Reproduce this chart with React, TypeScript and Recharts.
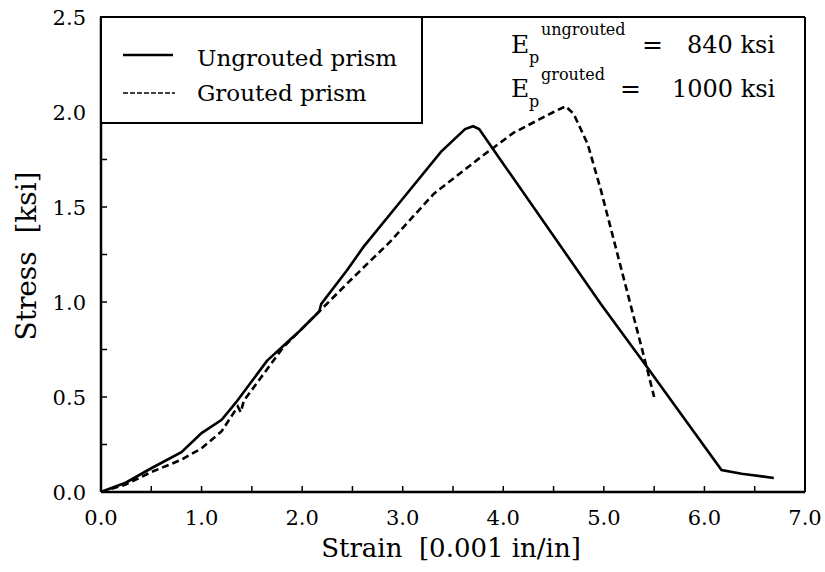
import React from "react";
import { LineChart, Line, XAxis, YAxis } from "recharts";

const ungroutedStrain = [0, 0.25, 0.5, 0.8, 1.0, 1.2, 1.34, 1.65, 1.98, 2.17, 2.19, 2.45, 2.61, 2.98, 3.38, 3.62, 3.7, 3.76, 3.97, 4.97, 5.44, 6.17, 6.37, 6.69];
const ungroutedStress = [0, 0.05, 0.125, 0.21, 0.31, 0.38, 0.47, 0.69, 0.85, 0.95, 0.99, 1.17, 1.29, 1.53, 1.79, 1.91, 1.925, 1.91, 1.75, 0.99, 0.65, 0.116, 0.096, 0.074];

const groutedStrain = [0, 0.25, 0.5, 0.8, 1.0, 1.2, 1.36, 1.39, 1.42, 1.81, 2.15, 2.51, 2.88, 3.31, 3.77, 4.1, 4.5, 4.62, 4.7, 4.84, 4.97, 5.4, 5.5];
const groutedStress = [0, 0.04, 0.105, 0.17, 0.23, 0.32, 0.45, 0.42, 0.48, 0.76, 0.94, 1.13, 1.32, 1.57, 1.76, 1.89, 2.0, 2.03, 1.99, 1.83, 1.59, 0.71, 0.5];

const xTicks = [0, 0.5, 1, 1.5, 2, 2.5, 3, 3.5, 4, 4.5, 5, 5.5, 6, 6.5, 7];
const yTicks = [0, 0.25, 0.5, 0.75, 1, 1.25, 1.5, 1.75, 2, 2.25, 2.5];

const ungrouted = ungroutedStrain.map((x, i) => ({ x, y: ungroutedStress[i] }));
const grouted = groutedStrain.map((x, i) => ({ x, y: groutedStress[i] }));

const FONT = '"DejaVu Serif", serif';
const TICK_LEN = 6;

const isMajor = (v: number) => Math.abs(v - Math.round(v)) < 1e-6;
const isHalf = (v: number) => Math.abs(v * 2 - Math.round(v * 2)) < 1e-6;

const txt = (size: number): React.CSSProperties => ({ fontFamily: FONT, fontSize: size, whiteSpace: "pre" });

const BottomTick = (props: any) => {
  const { x, y, payload } = props;
  const v = payload.value as number;
  return (
    <g>
      <line x1={x} y1={y} x2={x} y2={y - TICK_LEN} stroke="#000" strokeWidth={1.5} />
      {isMajor(v) && (
        <text x={x} y={y + 33} textAnchor="middle" style={txt(21)} fill="#000">
          {v.toFixed(1)}
        </text>
      )}
    </g>
  );
};

const TopTick = (props: any) => {
  const { x, y } = props;
  return <line x1={x} y1={y} x2={x} y2={y + TICK_LEN} stroke="#000" strokeWidth={1.5} />;
};

const LeftTick = (props: any) => {
  const { x, y, payload } = props;
  const v = payload.value as number;
  return (
    <g>
      <line x1={x} y1={y} x2={x + TICK_LEN} y2={y} stroke="#000" strokeWidth={1.5} />
      {isHalf(v) && (
        <text x={x - 15} y={y + 8} textAnchor="end" style={txt(21)} fill="#000">
          {v.toFixed(1)}
        </text>
      )}
    </g>
  );
};

const RightTick = (props: any) => {
  const { x, y } = props;
  return <line x1={x} y1={y} x2={x - TICK_LEN} y2={y} stroke="#000" strokeWidth={1.5} />;
};

export default function App() {
  return (
    <div style={{ position: "absolute", left: 0, top: 0, width: 825, height: 572, background: "#fff" }}>
      <LineChart width={825} height={572} margin={{ top: 16, right: 19, bottom: 40, left: 41 }}>
        <XAxis
          xAxisId="b"
          type="number"
          dataKey="x"
          domain={[0, 7]}
          ticks={xTicks}
          interval={0}
          height={40}
          tickSize={0}
          tickMargin={0}
          tickLine={false}
          tick={<BottomTick />}
          axisLine={{ stroke: "#000", strokeWidth: 2.5 }}
          allowDataOverflow
        />
        <XAxis
          xAxisId="t"
          orientation="top"
          type="number"
          dataKey="x"
          domain={[0, 7]}
          ticks={xTicks}
          interval={0}
          height={1}
          tickSize={0}
          tickMargin={0}
          tickLine={false}
          tick={<TopTick />}
          axisLine={{ stroke: "#000", strokeWidth: 2 }}
        />
        <YAxis
          yAxisId="l"
          type="number"
          domain={[0, 2.5]}
          ticks={yTicks}
          interval={0}
          width={60}
          tickSize={0}
          tickMargin={0}
          tickLine={false}
          tick={<LeftTick />}
          axisLine={{ stroke: "#000", strokeWidth: 2.5 }}
          allowDataOverflow
        />
        <YAxis
          yAxisId="r"
          orientation="right"
          type="number"
          domain={[0, 2.5]}
          ticks={yTicks}
          interval={0}
          width={1}
          tickSize={0}
          tickMargin={0}
          tickLine={false}
          tick={<RightTick />}
          axisLine={{ stroke: "#000", strokeWidth: 2 }}
        />
        <Line
          xAxisId="b"
          yAxisId="l"
          data={ungrouted}
          dataKey="y"
          type="linear"
          stroke="#000"
          strokeWidth={2.6}
          dot={false}
          activeDot={false}
          isAnimationActive={false}
        />
        <Line
          xAxisId="b"
          yAxisId="l"
          data={grouted}
          dataKey="y"
          type="linear"
          stroke="#000"
          strokeWidth={2.6}
          strokeDasharray="7 4"
          dot={false}
          activeDot={false}
          isAnimationActive={false}
        />
      </LineChart>
      <svg
        width={825}
        height={572}
        style={{ position: "absolute", left: 0, top: 0, pointerEvents: "none" }}
      >
        {/* legend */}
        <rect x={101} y={17} width={321} height={106} fill="#fff" stroke="#000" strokeWidth={2} />
        <line x1={123} y1={55} x2={173} y2={55} stroke="#000" strokeWidth={2.6} />
        <line x1={123} y1={93} x2={175} y2={93} stroke="#000" strokeWidth={1.6} strokeDasharray="5 2" />
        <text x={197} y={66} style={txt(23)} fill="#000">Ungrouted prism</text>
        <text x={197} y={101} style={txt(23)} fill="#000">Grouted prism</text>
        {/* annotations */}
        <text x={511} y={53} style={txt(25)} fill="#000">E</text>
        <text x={529} y={63} style={txt(16)} fill="#000">p</text>
        <text x={541} y={35} style={txt(16)} fill="#000">ungrouted</text>
        <text x={642} y={53} style={txt(25)} fill="#000">=</text>
        <text x={687} y={53} style={txt(24)} fill="#000">840 ksi</text>
        <text x={511} y={97} style={txt(25)} fill="#000">E</text>
        <text x={529} y={107} style={txt(16)} fill="#000">p</text>
        <text x={541} y={80} style={txt(16)} fill="#000">grouted</text>
        <text x={620} y={97} style={txt(25)} fill="#000">=</text>
        <text x={672} y={97} style={txt(24)} fill="#000">1000 ksi</text>
        {/* axis titles */}
        <text x={451} y={557} textAnchor="middle" style={txt(26)} fill="#000">{"Strain  [0.001 in/in]"}</text>
        <text
          x={0}
          y={0}
          transform="translate(36,256) rotate(-90)"
          textAnchor="middle"
          style={txt(28)}
          fill="#000"
        >
          {"Stress  [ksi]"}
        </text>
      </svg>
    </div>
  );
}
